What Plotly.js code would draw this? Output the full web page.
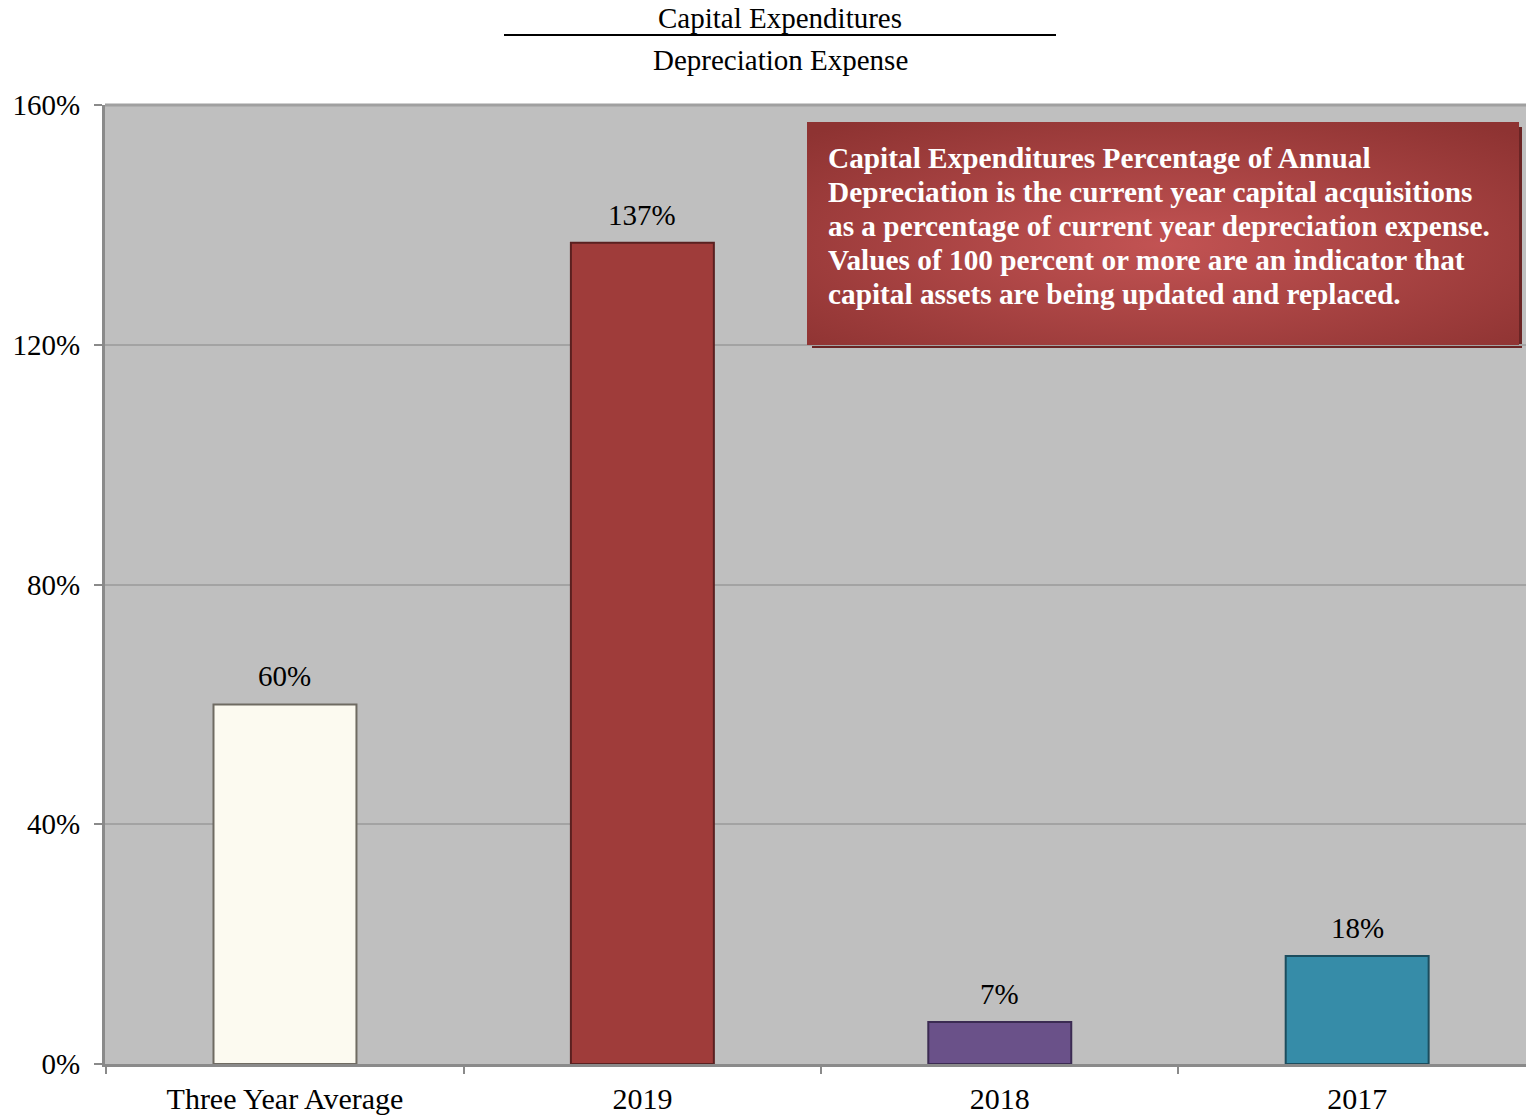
<!DOCTYPE html>
<html>
<head>
<meta charset="utf-8">
<script src="https://cdn.plot.ly/plotly-3.0.1.min.js"></script>
<style>html,body{margin:0;padding:0;background:#fff;}#chart{width:1526px;height:1115px;}</style>
</head>
<body>
<div id="chart"></div>
<script>
const categories = ["Three Year Average", "2019", "2018", "2017"];
const values = [60, 137, 7, 18];
const barColors = ["#FCFAF0", "#9F3C3A", "#6A5189", "#368CA8"];
const barEdges = ["#6f6b62", "#5a2020", "#3b2b52", "#1c4d5e"];
const yTicks = [0, 40, 80, 120, 160];
const titleTop = "Capital Expenditures";
const titleBottom = "Depreciation Expense";
const noteLines = [
  "Capital Expenditures Percentage of Annual",
  "Depreciation is the current year capital acquisitions",
  "as a percentage of current year depreciation expense.",
  "Values of 100 percent or more are an indicator that",
  "capital assets are being updated and replaced."
];

const FONT = "Liberation Serif, Times New Roman, serif";

const gradSvg = '<svg xmlns="http://www.w3.org/2000/svg" width="712" height="223" preserveAspectRatio="none" viewBox="0 0 712 223">' +
  '<defs><radialGradient id="g" cx="0.5" cy="0.55" r="0.7"><stop offset="0" stop-color="#C25353"/><stop offset="1" stop-color="#8E3332"/></radialGradient></defs>' +
  '<rect x="0" y="0" width="712" height="223" fill="url(#g)"/></svg>';
const gradUri = "data:image/svg+xml;base64," + btoa(gradSvg);

// pixel helpers for plot area: x 105..1526, y 105..1064
const L = 105, R = 1526, T = 105, B = 1064;
const px = x => (x - L) / (R - L);
const py = y => (B - y) / (B - T);

const trace = {
  type: "bar",
  x: categories,
  y: values,
  width: 0.4,
  marker: { color: barColors, line: { color: barEdges, width: 2 } },
  hoverinfo: "skip"
};

const valueLabels = categories.map((c, i) => ({
  x: i, y: values[i], xref: "x", yref: "y",
  text: values[i] + "%", showarrow: false,
  xanchor: "center", yanchor: "bottom", yshift: 10,
  font: { family: FONT, size: 29, color: "#000" }
}));

const noteAnns = noteLines.map((s, i) => ({
  xref: "paper", yref: "paper", x: px(826), y: py(158 + i * 34),
  text: "<b>" + s + "</b>", showarrow: false, xanchor: "left", yanchor: "middle",
  align: "left", font: { family: FONT, size: 29.3, color: "#fff" }
}));

const layout = {
  width: 1526,
  height: 1115,
  margin: { l: 105, r: 0, t: 105, b: 51 },
  paper_bgcolor: "#ffffff",
  plot_bgcolor: "#BFBFBF",
  showlegend: false,
  font: { family: FONT, size: 28, color: "#000" },
  xaxis: {
    type: "category",
    range: [-0.5036, 3.4724],
    showline: true,
    linecolor: "#8A8A8A",
    linewidth: 3,
    ticks: "outside",
    tickson: "boundaries",
    ticklen: 7,
    tickcolor: "#8A8A8A",
    tickwidth: 2,
    showgrid: false,
    ticklabelstandoff: 6,
    tickfont: { family: FONT, size: 30, color: "#000" },
    automargin: false
  },
  yaxis: {
    range: [0, 160],
    tickvals: yTicks,
    ticktext: yTicks.map(v => v + "%"),
    showline: true,
    linecolor: "#8A8A8A",
    linewidth: 3,
    ticks: "outside",
    ticklen: 8,
    tickcolor: "#8A8A8A",
    tickwidth: 2,
    showgrid: true,
    gridcolor: "#A3A3A3",
    gridwidth: 2,
    zeroline: false,
    ticklabelstandoff: 8,
    tickfont: { family: FONT, size: 29, color: "#000" },
    automargin: false
  },
  shapes: [
    { type: "line", xref: "paper", yref: "paper", x0: 0, x1: 1, y0: 1, y1: 1, line: { color: "#A0A0A0", width: 3 } },
    { type: "line", xref: "paper", yref: "paper", x0: px(504), x1: px(1056), y0: py(35), y1: py(35), line: { color: "#000", width: 2 } },
    { type: "rect", xref: "paper", yref: "paper", x0: px(812), x1: px(1522), y0: py(127), y1: py(348), fillcolor: "#6A2424", line: { width: 0 }, layer: "below" }
  ],
  images: [
    { source: gradUri, xref: "paper", yref: "paper", x: px(807), y: py(122), sizex: px(1519) - px(807), sizey: py(122) - py(345), xanchor: "left", yanchor: "top", sizing: "stretch", layer: "above" }
  ],
  annotations: [
    { xref: "paper", yref: "paper", x: px(780), y: py(18), text: titleTop, showarrow: false, xanchor: "center", yanchor: "middle", font: { family: FONT, size: 29, color: "#000" } },
    { xref: "paper", yref: "paper", x: px(780), y: py(60), text: titleBottom, showarrow: false, xanchor: "center", yanchor: "middle", font: { family: FONT, size: 29, color: "#000" } }
  ].concat(valueLabels, noteAnns)
};

Plotly.newPlot("chart", [trace], layout, { displayModeBar: false, staticPlot: true });
</script>
</body>
</html>
